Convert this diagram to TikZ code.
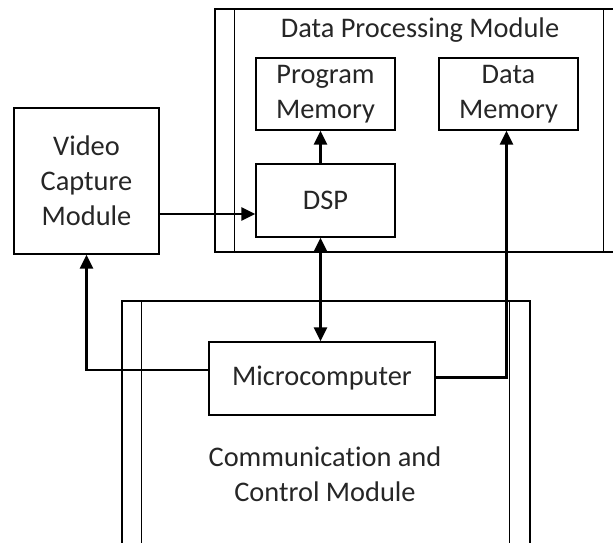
\documentclass[tikz,border=0pt]{standalone}
\usepackage{fontspec}
\setmainfont{Carlito}[Ligatures=NoCommon]
\usepackage{tikz}
\usetikzlibrary{arrows.meta,positioning,calc}
\usepackage{xcolor}

\begin{document}
\begin{tikzpicture}[
    x=1bp, y=-1bp,
    font=\fontsize{28.5}{35}\selectfont,
    box/.style={draw=black, line width=1.3bp, align=center, inner sep=0pt, text=black!85},
    frame/.style={draw=black, line width=1.3bp, inner sep=0pt},
    lbl/.style={align=center, inner sep=0pt, text=black!85},
    arr/.style={-{Triangle[length=14bp,width=13bp]}, line width=2.8bp},
    darr/.style={{Triangle[length=14bp,width=13bp]}-{Triangle[length=14bp,width=13bp]}, line width=2.8bp}
  ]
    \useasboundingbox (0,0) rectangle (613,543);
    \clip (0,0) rectangle (613,543);
    % module frames with double side bars
    \node[frame, minimum width=408bp, minimum height=243bp] (dpm) at (419,130.5) {};
    \draw[line width=1.3bp] ([xshift=20bp]dpm.north west) -- ([xshift=20bp]dpm.south west);
    \draw[line width=1.3bp] ([xshift=-20bp]dpm.north east) -- ([xshift=-20bp]dpm.south east);
    \node[lbl] (dpmlab) at (420,30) {Data Processing Module};
    \node[frame, minimum width=408bp, minimum height=259bp] (ccm) at (326,430.5) {};
    \draw[line width=1.3bp] ([xshift=20bp]ccm.north west) -- ([xshift=20bp]ccm.south west);
    \draw[line width=1.3bp] ([xshift=-21bp]ccm.north east) -- ([xshift=-21bp]ccm.south east);
    \node[lbl] (ccmlab) at (325,474) {Communication and\\Control Module};
    % blocks
    \node[box, minimum width=139bp, minimum height=72bp] (pm) at (325.5,94) {Program\\Memory};
    \node[box, minimum width=139bp, minimum height=72bp] (dm) at (508.5,94) {Data\\Memory};
    \node[box, minimum width=139bp, minimum height=73bp] (dsp) at (325.5,200.5) {DSP};
    \node[box, minimum width=145bp, minimum height=146bp] (vcm) at (86.5,181) {Video\\Capture\\Module};
    \node[box, minimum width=226bp, minimum height=73bp] (mc) at (322,378.5) {Microcomputer};
    % connections
    \coordinate (vcmout) at ([yshift=-33bp]vcm.east);
    \draw[arr] (vcmout) -- (vcmout -| dsp.west);
    \draw[arr] ([xshift=-5bp]dsp.north) -- ([xshift=-5bp]pm.south);
    \draw[darr] ([xshift=-5bp]dsp.south) -- ([xshift=-5bp]dsp.south |- mc.north);
    \draw[arr] ([yshift=1bp]mc.east) -| ([xshift=-2bp]dm.south);
    \draw[arr] ([yshift=8.5bp]mc.west) -| (vcm.south);
  \end{tikzpicture}
\end{document}
